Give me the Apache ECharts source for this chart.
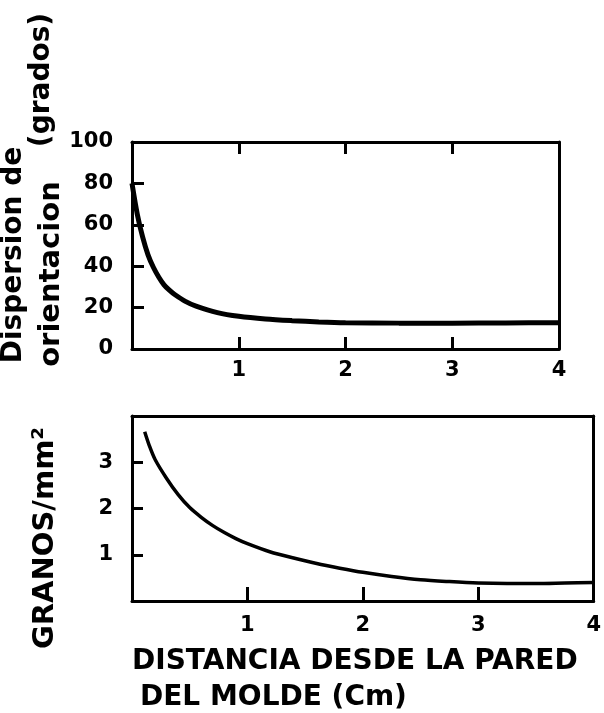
<!DOCTYPE html>
<html>
<head>
<meta charset="utf-8">
<script src="https://cdn.jsdelivr.net/npm/echarts@6/dist/echarts.min.js"></script>
<style>
  html, body { margin: 0; padding: 0; background: #fff; }
  #chart { width: 604px; height: 713px; }
</style>
</head>
<body>
<div id="chart"></div>
<script>
// Upper panel: orientation dispersion (degrees) vs distance from mould wall (cm)
const dispX = [0, 0.05, 0.1, 0.15, 0.2, 0.25, 0.3, 0.35, 0.4, 0.5, 0.6, 0.8, 1.0, 1.25, 1.5, 1.75, 2.0, 2.5, 3.0, 3.5, 4.0];
const dispY = [80, 65, 54, 45.5, 39.5, 34.8, 31, 28.4, 26.3, 23, 20.7, 17.6, 15.8, 14.5, 13.7, 13.1, 12.7, 12.5, 12.5, 12.6, 12.7];

// Lower panel: grains per mm² vs distance from mould wall (cm)
const granX = [0.11, 0.15, 0.2, 0.3, 0.4, 0.5, 0.6, 0.7, 0.8, 0.9, 1.0, 1.2, 1.4, 1.6, 1.8, 2.0, 2.25, 2.5, 2.75, 3.0, 3.25, 3.5, 3.75, 4.0];
const granY = [3.66, 3.36, 3.06, 2.65, 2.30, 2.02, 1.81, 1.63, 1.48, 1.35, 1.24, 1.06, 0.93, 0.81, 0.71, 0.62, 0.53, 0.46, 0.42, 0.39, 0.38, 0.38, 0.39, 0.40];

// Tick values / labels
const xTickVals = [1, 2, 3];
const xLabelVals = [1, 2, 3, 4];
const dispTickVals = [20, 40, 60, 80];
const dispLabelVals = [0, 20, 40, 60, 80, 100];
const granTickVals = [1, 2, 3];
const granLabelVals = [1, 2, 3];

const FONT = 'DejaVu Sans';
const lineSty = { color: '#000', width: 3 };
const labelSty = { color: '#000', fontFamily: FONT, fontWeight: 'bold', fontSize: 21 };

function boxAxis(extra) {
  return Object.assign({
    type: 'value',
    axisLine: { show: true, onZero: false, lineStyle: lineSty },
    axisTick: { show: false },
    axisLabel: { show: false },
    splitLine: { show: false }
  }, extra);
}

function vText(x, y, text, size) {
  return { type: 'text', x: x, y: y, rotation: Math.PI / 2,
    style: { text: text, fontFamily: FONT, fontWeight: 'bold', fontSize: size, fill: '#000', align: 'center', verticalAlign: 'middle' } };
}
function hText(x, y, text, size) {
  return { type: 'text', x: x, y: y,
    style: { text: text, fontFamily: FONT, fontWeight: 'bold', fontSize: size, fill: '#000', align: 'left', verticalAlign: 'middle' } };
}

const chart = echarts.init(document.getElementById('chart'), null, { renderer: 'canvas' });
chart.setOption({
  backgroundColor: '#fff',
  animation: false,
  grid: [
    { left: 132, top: 142, width: 427, height: 207 },
    { left: 132, top: 416, width: 470, height: 185 }
  ],
  xAxis: [
    boxAxis({ gridIndex: 0, position: 'bottom', min: 0, max: 4,
      axisTick: { show: true, inside: true, length: 12, customValues: xTickVals, lineStyle: lineSty },
      axisLabel: Object.assign({ show: true, margin: 11, customValues: xLabelVals }, labelSty) }),
    boxAxis({ gridIndex: 0, position: 'top', min: 0, max: 4,
      axisTick: { show: true, inside: true, length: 12, customValues: xTickVals, lineStyle: lineSty } }),
    boxAxis({ gridIndex: 1, position: 'bottom', min: 0, max: 4,
      axisTick: { show: true, inside: true, length: 14, customValues: xTickVals, lineStyle: lineSty },
      axisLabel: Object.assign({ show: true, margin: 14, customValues: xLabelVals }, labelSty) }),
    boxAxis({ gridIndex: 1, position: 'top', min: 0, max: 4 })
  ],
  yAxis: [
    boxAxis({ gridIndex: 0, position: 'left', min: 0, max: 100,
      axisTick: { show: true, inside: true, length: 12, customValues: dispTickVals, lineStyle: lineSty },
      axisLabel: Object.assign({ show: true, margin: 19, customValues: dispLabelVals, padding: [0, 0, 8, 0] }, labelSty) }),
    boxAxis({ gridIndex: 0, position: 'right', min: 0, max: 100 }),
    boxAxis({ gridIndex: 1, position: 'left', min: 0, max: 4,
      axisTick: { show: true, inside: true, length: 11, customValues: granTickVals, lineStyle: lineSty },
      axisLabel: Object.assign({ show: true, margin: 19, customValues: granLabelVals, padding: [12, 0, 0, 0] }, labelSty) }),
    boxAxis({ gridIndex: 1, position: 'right', min: 0, max: 4 })
  ],
  series: [
    {
      type: 'line', xAxisIndex: 0, yAxisIndex: 0,
      data: dispX.map((x, i) => [x, dispY[i]]),
      smooth: 0.3, showSymbol: false,
      lineStyle: { color: '#000', width: 5 }
    },
    {
      type: 'line', xAxisIndex: 2, yAxisIndex: 2,
      data: granX.map((x, i) => [x, granY[i]]),
      smooth: 0.3, showSymbol: false,
      lineStyle: { color: '#000', width: 3.5 }
    }
  ],
  graphic: [
    vText(14, 255, 'Dispersion de', 28),
    vText(42, 80, '(grados)', 28),
    vText(51, 274, 'orientacion', 29),
    vText(45, 538, 'GRANOS/mm²', 29),
    hText(132, 662, 'DISTANCIA DESDE LA PARED', 28),
    hText(140, 698, 'DEL MOLDE (Cm)', 28)
  ]
});
</script>
</body>
</html>
